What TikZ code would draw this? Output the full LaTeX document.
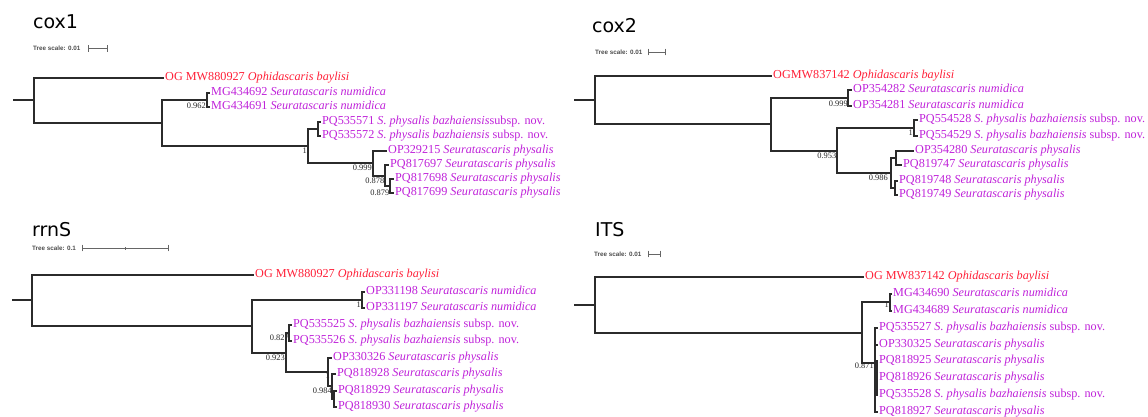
\documentclass[tikz,border=0pt]{standalone}
\usepackage{fontspec}
\setmainfont{Liberation Serif}
\newfontfamily\ttlfont{DejaVu Sans}
\newfontfamily\sclfont{Liberation Sans}
\definecolor{ogred}{HTML}{FF2038}
\definecolor{lab}{HTML}{BF22D9}
\definecolor{brc}{HTML}{2B2B2B}
\tikzset{
  br/.style={draw=brc, line width=1.8pt, line join=miter},
  leaf/.style={anchor=west, inner xsep=1.5pt, inner ysep=0pt, text height=8.4pt, text depth=2.6pt, text=lab, font=\fontsize{12.2}{14}\selectfont},
  og/.style={leaf, text=ogred},
  sup/.style={anchor=east, inner sep=0pt, font=\fontsize{8.4}{10}\selectfont, text=black!85},
  ttl/.style={anchor=base west, inner sep=0pt, font=\ttlfont\fontsize{19}{22}\selectfont},
  scl/.style={anchor=west, inner sep=0pt, font=\sclfont\bfseries\fontsize{6.3}{7}\selectfont, text=black!70},
  bar/.style={draw=black!60, line width=0.7pt},
}
\begin{document}
\begin{tikzpicture}[x=1pt,y=-1pt]
\useasboundingbox (0,0) rectangle (1148,417);

% ================= cox1 =================
\node[ttl] (c1t) at (33,29) {cox1};
\node[scl] (c1sc) at (33,48.5) {Tree scale: 0.01};
\coordinate (c1b1) at (88,48.5); \coordinate (c1b2) at (108,48.5);
\draw[bar,|-|] (c1b1) -- (c1b2);

\coordinate (c1st) at (13,100);
\coordinate (c1r) at (34,100);
\coordinate (c1I) at (162,123);
\coordinate (c1Nu) at (207,100);
\coordinate (c1P) at (308,146);
\coordinate (c1Bz) at (318,129);
\coordinate (c1A) at (373,163);
\coordinate (c1B) at (385,176);
\coordinate (c1C) at (390,186);

\node[og] (c1l1) at (163.5,78) {OG MW880927 \textit{Ophidascaris baylisi}};
\node[leaf] (c1l2) at (209.5,93) {MG434692 \textit{Seuratascaris numidica}};
\node[leaf] (c1l3) at (209.5,107) {MG434691 \textit{Seuratascaris numidica}};
\node[leaf] (c1l4) at (320.5,122) {PQ535571 \textit{S. physalis bazhaiensis}subsp. nov.};
\node[leaf] (c1l5) at (320.5,136) {PQ535572 \textit{S. physalis bazhaiensis} subsp. nov.};
\node[leaf] (c1l6) at (386.5,151) {OP329215 \textit{Seuratascaris physalis}};
\node[leaf] (c1l7) at (388.5,165) {PQ817697 \textit{Seuratascaris physalis}};
\node[leaf] (c1l8) at (393.5,179) {PQ817698 \textit{Seuratascaris physalis}};
\node[leaf] (c1l9) at (393.5,193) {PQ817699 \textit{Seuratascaris physalis}};

\draw[br] (c1st) -- (c1r);
\draw[br] (c1r) |- (c1l1.west);
\draw[br] (c1r) |- (c1I);
\draw[br] (c1I) |- (c1Nu);
\draw[br] (c1I) |- (c1P);
\draw[br] (c1Nu) |- (c1l2.west);
\draw[br] (c1Nu) |- (c1l3.west);
\draw[br] (c1P) |- (c1Bz);
\draw[br] (c1P) |- (c1A);
\draw[br] (c1Bz) |- (c1l4.west);
\draw[br] (c1Bz) |- (c1l5.west);
\draw[br] (c1A) |- (c1l6.west);
\draw[br] (c1A) |- (c1B);
\draw[br] (c1B) |- (c1l7.west);
\draw[br] (c1B) |- (c1C);
\draw[br] (c1C) |- (c1l8.west);
\draw[br] (c1C) |- (c1l9.west);

\node[sup] (c1s1) at (206,106) {0.962};
\node[sup] (c1s2) at (307,151) {1};
\node[sup] (c1s3) at (372,168) {0.999};
\node[sup] (c1s4) at (384.5,181) {0.878};
\node[sup] (c1s5) at (389.5,192.5) {0.879};

% ================= cox2 =================
\node[ttl] (c2t) at (592,33) {cox2};
\node[scl] (c2sc) at (595,52) {Tree scale: 0.01};
\coordinate (c2b1) at (648,52); \coordinate (c2b2) at (666,52);
\draw[bar,|-|] (c2b1) -- (c2b2);

\coordinate (c2st) at (574,100);
\coordinate (c2r) at (595,100);
\coordinate (c2I) at (771,124);
\coordinate (c2Nu) at (848,98);
\coordinate (c2P) at (837,151);
\coordinate (c2Bz) at (914,128);
\coordinate (c2A) at (891,173);
\coordinate (c2S1) at (896,158);
\coordinate (c2S2) at (895,188);

\node[og] (c2l1) at (771.5,76) {OGMW837142 \textit{Ophidascaris baylisi}};
\node[leaf] (c2l2) at (851.5,90) {OP354282 \textit{Seuratascaris numidica}};
\node[leaf] (c2l3) at (851.5,106) {OP354281 \textit{Seuratascaris numidica}};
\node[leaf] (c2l4) at (917.5,120) {PQ554528 \textit{S. physalis bazhaiensis} subsp. nov.};
\node[leaf] (c2l5) at (917.5,136) {PQ554529 \textit{S. physalis bazhaiensis} subsp. nov.};
\node[leaf] (c2l6) at (913.5,151) {OP354280 \textit{Seuratascaris physalis}};
\node[leaf] (c2l7) at (901.5,165) {PQ819747 \textit{Seuratascaris physalis}};
\node[leaf] (c2l8) at (897.5,181) {PQ819748 \textit{Seuratascaris physalis}};
\node[leaf] (c2l9) at (897.5,195) {PQ819749 \textit{Seuratascaris physalis}};

\draw[br] (c2st) -- (c2r);
\draw[br] (c2r) |- (c2l1.west);
\draw[br] (c2r) |- (c2I);
\draw[br] (c2I) |- (c2Nu);
\draw[br] (c2I) |- (c2P);
\draw[br] (c2Nu) |- (c2l2.west);
\draw[br] (c2Nu) |- (c2l3.west);
\draw[br] (c2P) |- (c2Bz);
\draw[br] (c2P) |- (c2A);
\draw[br] (c2Bz) |- (c2l4.west);
\draw[br] (c2Bz) |- (c2l5.west);
\draw[br] (c2A) |- (c2S1);
\draw[br] (c2A) |- (c2S2);
\draw[br] (c2S1) |- (c2l6.west);
\draw[br] (c2S1) |- (c2l7.west);
\draw[br] (c2S2) |- (c2l8.west);
\draw[br] (c2S2) |- (c2l9.west);

\node[sup] (c2s1) at (848,104) {0.999};
\node[sup] (c2s2) at (913,133) {1};
\node[sup] (c2s3) at (836.5,156) {0.953};
\node[sup] (c2s4) at (888,178) {0.986};

% ================= rrnS =================
\node[ttl] (c3t) at (32,236) {rrnS};
\node[scl] (c3sc) at (32,248) {Tree scale: 0.1};
\coordinate (c3b1) at (82,248); \coordinate (c3b2) at (169,248);
\coordinate (c3bm) at (125.5,248);
\draw[bar,|-|] (c3b1) -- (c3b2);
\draw[bar] ([yshift=-1.5pt]c3bm) -- ([yshift=1.5pt]c3bm);

\coordinate (c3st) at (12,300);
\coordinate (c3r) at (32,300);
\coordinate (c3I) at (252,326);
\coordinate (c3Nu) at (362,300);
\coordinate (c3P) at (286,353);
\coordinate (c3Bz) at (289,333);
\coordinate (c3A) at (328,372);
\coordinate (c3B) at (332,386);
\coordinate (c3C) at (334,399);

\node[og] (c3l1) at (253.5,275) {OG MW880927 \textit{Ophidascaris baylisi}};
\node[leaf] (c3l2) at (364.5,292) {OP331198 \textit{Seuratascaris numidica}};
\node[leaf] (c3l3) at (364.5,308) {OP331197 \textit{Seuratascaris numidica}};
\node[leaf] (c3l4) at (291.5,325) {PQ535525 \textit{S. physalis bazhaiensis} subsp. nov.};
\node[leaf] (c3l5) at (291.5,341) {PQ535526 \textit{S. physalis bazhaiensis} subsp. nov.};
\node[leaf] (c3l6) at (331.5,358) {OP330326 \textit{Seuratascaris physalis}};
\node[leaf] (c3l7) at (335.5,374) {PQ818928 \textit{Seuratascaris physalis}};
\node[leaf] (c3l8) at (336.5,391) {PQ818929 \textit{Seuratascaris physalis}};
\node[leaf] (c3l9) at (336.5,407) {PQ818930 \textit{Seuratascaris physalis}};

\draw[br] (c3st) -- (c3r);
\draw[br] (c3r) |- (c3l1.west);
\draw[br] (c3r) |- (c3I);
\draw[br] (c3I) |- (c3Nu);
\draw[br] (c3I) |- (c3P);
\draw[br] (c3Nu) |- (c3l2.west);
\draw[br] (c3Nu) |- (c3l3.west);
\draw[br] (c3P) |- (c3Bz);
\draw[br] (c3P) |- (c3A);
\draw[br] (c3Bz) |- (c3l4.west);
\draw[br] (c3Bz) |- (c3l5.west);
\draw[br] (c3A) |- (c3l6.west);
\draw[br] (c3A) |- (c3B);
\draw[br] (c3B) |- (c3l7.west);
\draw[br] (c3B) |- (c3C);
\draw[br] (c3C) |- (c3l8.west);
\draw[br] (c3C) |- (c3l9.west);

\node[sup] (c3s1) at (361,305) {1};
\node[sup] (c3s2) at (289,338) {0.827};
\node[sup] (c3s3) at (285,358) {0.923};
\node[sup] (c3s4) at (330,376) {1};
\node[sup] (c3s5) at (332,391) {0.984};

% ================= ITS =================
\node[ttl] (c4t) at (595,236) {ITS};
\node[scl] (c4sc) at (594,254) {Tree scale: 0.01};
\coordinate (c4b1) at (648,254); \coordinate (c4b2) at (661,254);
\draw[bar,|-|] (c4b1) -- (c4b2);

\coordinate (c4st) at (574,305);
\coordinate (c4r) at (595,305);
\coordinate (c4I) at (862,333);
\coordinate (c4Nu) at (890,302);
\coordinate (c4P) at (875,363);
\coordinate (c4Q) at (877,372);

\node[og] (c4l1) at (863.5,277) {OG MW837142 \textit{Ophidascaris baylisi}};
\node[leaf] (c4l2) at (891.5,294) {MG434690 \textit{Seuratascaris numidica}};
\node[leaf] (c4l3) at (891.5,311) {MG434689 \textit{Seuratascaris numidica}};
\node[leaf] (c4l4) at (877.5,328) {PQ535527 \textit{S. physalis bazhaiensis} subsp. nov.};
\node[leaf] (c4l5) at (877.5,345) {OP330325 \textit{Seuratascaris physalis}};
\node[leaf] (c4l6) at (877.5,361) {PQ818925 \textit{Seuratascaris physalis}};
\node[leaf] (c4l7) at (877.5,378) {PQ818926 \textit{Seuratascaris physalis}};
\node[leaf] (c4l8) at (877.5,395) {PQ535528 \textit{S. physalis bazhaiensis} subsp. nov.};
\node[leaf] (c4l9) at (877.5,412) {PQ818927 \textit{Seuratascaris physalis}};

\draw[br] (c4st) -- (c4r);
\draw[br] (c4r) |- (c4l1.west);
\draw[br] (c4r) |- (c4I);
\draw[br] (c4I) |- (c4Nu);
\draw[br] (c4I) |- (c4P);
\draw[br] (c4Nu) |- (c4l2.west);
\draw[br] (c4Nu) |- (c4l3.west);
\draw[br] (c4P) |- (c4l4.west);
\draw[br] (c4P) |- (c4l5.west);
\draw[br] (c4P) |- (c4l9.west);
\draw[br] (c4P) |- (c4Q);
\draw[br] (c4Q) |- (c4l6.west);
\draw[br] (c4Q) |- (c4l7.west);
\draw[br] (c4Q) |- (c4l8.west);

\node[sup] (c4s1) at (889,305) {1};
\node[sup] (c4s2) at (874,366) {0.871};
\end{tikzpicture}
\end{document}
